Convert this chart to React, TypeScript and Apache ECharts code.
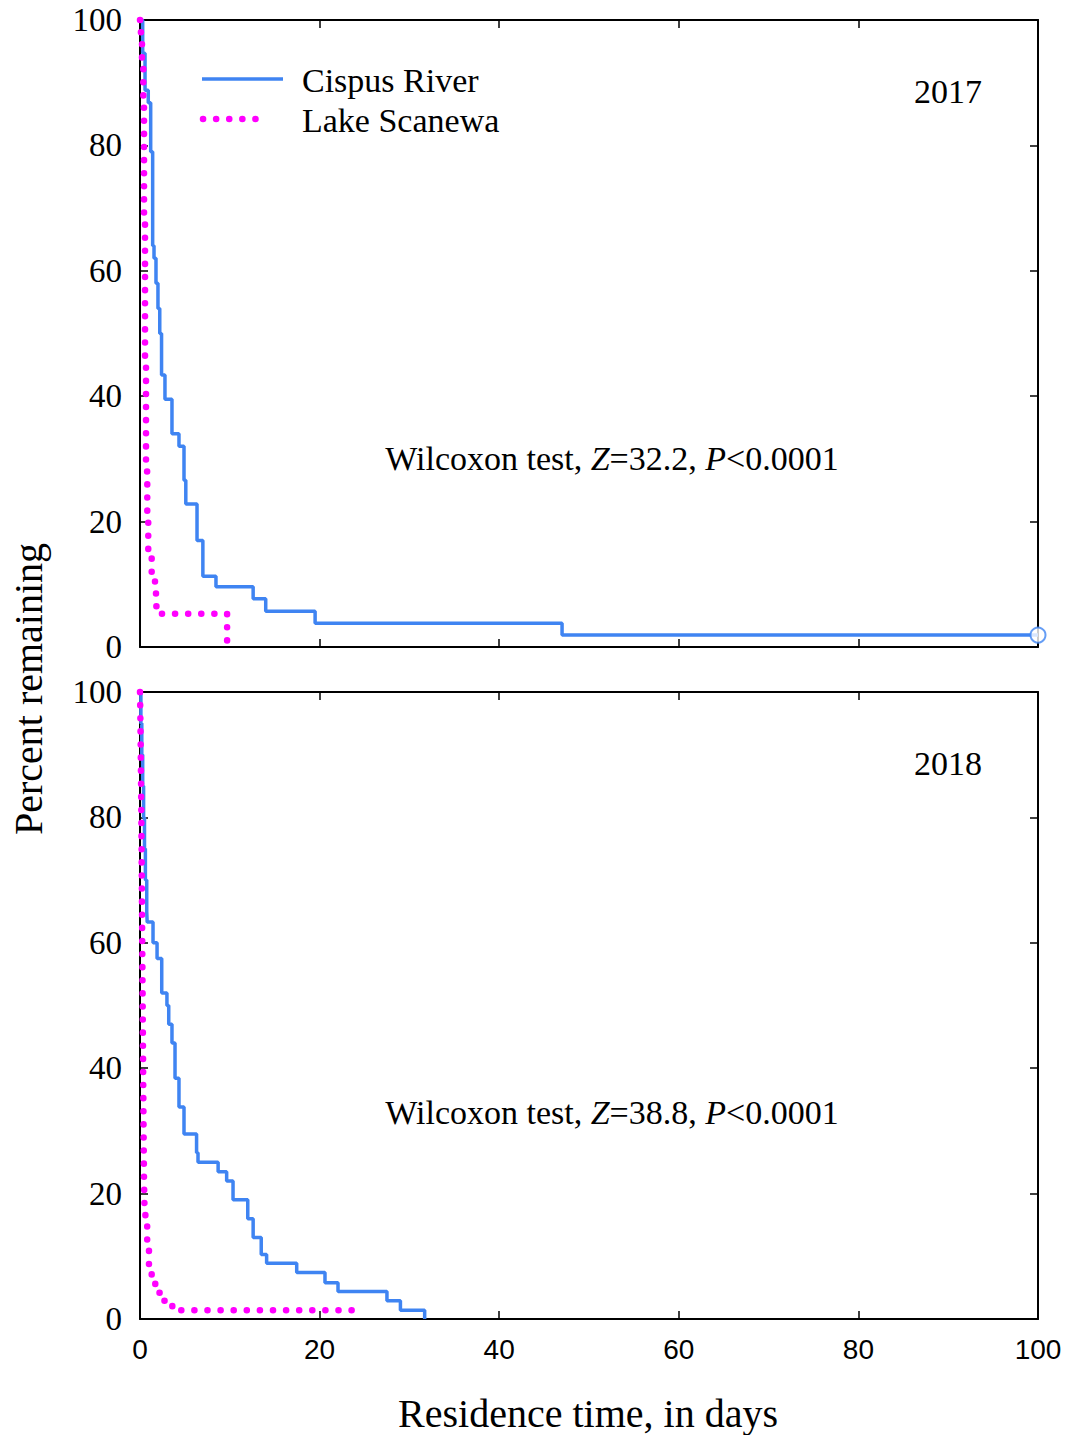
import React, { useEffect, useRef } from "react";
import * as echarts from "echarts";

// Kaplan-Meier style step points: [days, percent remaining after that time]
const cispus2017: [number, number][] = [
  [0, 100], [0.3, 94.7], [0.56, 88.8], [0.92, 86.8], [1.19, 79], [1.41, 64], [1.56, 62],
  [1.78, 58], [2.0, 54], [2.2, 50], [2.4, 43.4], [2.78, 39.5], [3.56, 34], [4.34, 32],
  [4.9, 26.6], [5.1, 22.8], [6.35, 17], [7.0, 11.3], [8.46, 9.6], [12.6, 7.7], [14.0, 5.7],
  [19.5, 3.8], [47, 1.9], [100, 1.9],
];
const lake2017: [number, number][] = [
  [0, 100], [0.1, 98], [0.22, 94], [0.37, 86], [0.45, 68], [0.56, 45], [0.67, 28],
  [0.81, 20], [0.92, 15.5], [1.19, 14.2], [1.3, 12], [1.48, 10.7], [1.67, 8.6],
  [1.78, 6.5], [2.0, 5.3], [9.7, 0],
];
const censored2017: [number, number][] = [[100, 1.9]];
const cispus2018: [number, number][] = [
  [0, 100], [0.1, 95], [0.2, 90], [0.3, 85], [0.4, 80], [0.5, 75], [0.6, 70], [0.75, 65],
  [0.8, 63.3], [1.45, 60], [1.9, 57.5], [2.42, 52], [3.0, 50], [3.2, 47], [3.56, 44],
  [3.9, 38.4], [4.34, 33.8], [4.9, 29.5], [6.3, 26.5], [6.46, 25], [8.7, 23.5], [9.65, 22],
  [10.36, 19], [12.0, 16], [12.6, 13], [13.5, 10.3], [14.1, 8.9], [17.45, 7.4], [20.6, 5.8],
  [22.05, 4.4], [27.5, 2.9], [29.0, 1.4], [31.7, 0],
];
const lake2018: [number, number][] = [
  [0, 100], [0.05, 95], [0.1, 88], [0.15, 80], [0.2, 70], [0.25, 60], [0.3, 50], [0.35, 40],
  [0.4, 30], [0.45, 22], [0.5, 18], [0.6, 15], [0.8, 11.5], [1.0, 8.5], [1.2, 7.4],
  [1.3, 5.8], [1.7, 4.2], [2.2, 2.9], [3.6, 1.4], [23.6, 0],
];
const seriesNames = ["Cispus River", "Lake Scanewa"];
const yearLabels = ["2017", "2018"];
const testLabels = [
  { z: "32.2", p: "0.0001" },
  { z: "38.8", p: "0.0001" },
];
const xTitle = "Residence time, in days";
const yTitle = "Percent remaining";

const BLUE = "#3f84f2";
const MAGENTA = "#ff00ff";
const SERIF = "'Liberation Serif', 'Times New Roman', serif";
const SANS = "'Liberation Sans', Arial, sans-serif";

export default function App() {
  const ref = useRef<HTMLDivElement>(null);
  useEffect(() => {
    if (!ref.current) return;
    const chart = echarts.init(ref.current, undefined, { renderer: "svg" });
    const axisLine = { show: true, onZero: false, lineStyle: { color: "#000", width: 2 } };
    const tick = { show: true, inside: true, length: 8, lineStyle: { color: "#000", width: 1.5 } };
    const mkX = (gridIndex: number, position: "bottom" | "top", labels: boolean) => ({
      type: "value", gridIndex, position, min: 0, max: 100, interval: 20,
      axisLine, axisTick: tick, splitLine: { show: false },
      axisLabel: labels
        ? { show: true, fontFamily: SANS, fontSize: 28, color: "#000", margin: 16 }
        : { show: false },
    });
    const mkY = (gridIndex: number, position: "left" | "right", labels: boolean) => ({
      type: "value", gridIndex, position, min: 0, max: 100, interval: 20,
      axisLine, axisTick: tick, splitLine: { show: false },
      axisLabel: labels
        ? { show: true, fontFamily: SERIF, fontSize: 33, color: "#000", margin: 18 }
        : { show: false },
    });
    const solid = { color: BLUE, width: 3.5 };
    const dotted = { color: MAGENTA, width: 6.5, type: [0.1, 13], cap: "round" };
    const line = (name: string, data: [number, number][], xi: number, yi: number, ls: any) => ({
      type: "line", name, data, xAxisIndex: xi, yAxisIndex: yi, step: "end",
      showSymbol: false, symbol: "none", clip: false, lineStyle: ls, itemStyle: { color: ls.color },
      z: ls.color === MAGENTA ? 3 : 2,
    });
    const wilcoxon = (t: { z: string; p: string }, y: number) => ({
      type: "text", x: 612, y,
      style: {
        text: `{n|Wilcoxon test, }{i|Z}{n|=${t.z}, }{i|P}{n|<${t.p}}`,
        align: "center", verticalAlign: "middle",
        rich: {
          n: { fontFamily: SERIF, fontSize: 34, fill: "#000", color: "#000" },
          i: { fontFamily: SERIF, fontSize: 34, fontStyle: "italic", fill: "#000", color: "#000" },
        },
      },
    });
    chart.setOption({
      animation: false,
      backgroundColor: "#fff",
      grid: [
        { left: 140, top: 20, width: 898, height: 627 },
        { left: 140, top: 692, width: 898, height: 627 },
      ],
      xAxis: [mkX(0, "bottom", false), mkX(0, "top", false), mkX(1, "bottom", true), mkX(1, "top", false)],
      yAxis: [mkY(0, "left", true), mkY(0, "right", false), mkY(1, "left", true), mkY(1, "right", false)],
      series: [
        line(seriesNames[0], cispus2017, 0, 0, solid),
        line(seriesNames[1], lake2017, 0, 0, dotted),
        {
          type: "scatter", data: censored2017, xAxisIndex: 0, yAxisIndex: 0, clip: false,
          symbol: "emptyCircle", symbolSize: 15, z: 10,
          itemStyle: { color: BLUE, borderColor: BLUE, borderWidth: 2 },
        },
        line(seriesNames[0], cispus2018, 2, 2, solid),
        line(seriesNames[1], lake2018, 2, 2, dotted),
      ],
      graphic: [
        { type: "line", shape: { x1: 202, y1: 79, x2: 283, y2: 79 }, style: { stroke: BLUE, lineWidth: 3.5 } },
        {
          type: "line", shape: { x1: 203, y1: 119, x2: 268.2, y2: 119 },
          style: { stroke: MAGENTA, lineWidth: 6.5, lineDash: [0.1, 13], lineCap: "round" },
        },
        { type: "text", x: 302, y: 80, style: { text: seriesNames[0], font: `34px ${SERIF}`, fill: "#000", verticalAlign: "middle" } },
        { type: "text", x: 302, y: 120, style: { text: seriesNames[1], font: `34px ${SERIF}`, fill: "#000", verticalAlign: "middle" } },
        { type: "text", x: 948, y: 91, style: { text: yearLabels[0], font: `34px ${SERIF}`, fill: "#000", align: "center", verticalAlign: "middle" } },
        { type: "text", x: 948, y: 763, style: { text: yearLabels[1], font: `34px ${SERIF}`, fill: "#000", align: "center", verticalAlign: "middle" } },
        wilcoxon(testLabels[0], 458),
        wilcoxon(testLabels[1], 1112),
        { type: "text", x: 588, y: 1413, style: { text: xTitle, font: `40px ${SERIF}`, fill: "#000", align: "center", verticalAlign: "middle" } },
        {
          type: "text", x: 28, y: 689, rotation: Math.PI / 2,
          style: { text: yTitle, font: `40px ${SERIF}`, fill: "#000", align: "center", verticalAlign: "middle" },
        },
      ],
    });
    return () => chart.dispose();
  }, []);
  return <div ref={ref} style={{ position: "absolute", left: 0, top: 0, width: 1067, height: 1435 }} />;
}
